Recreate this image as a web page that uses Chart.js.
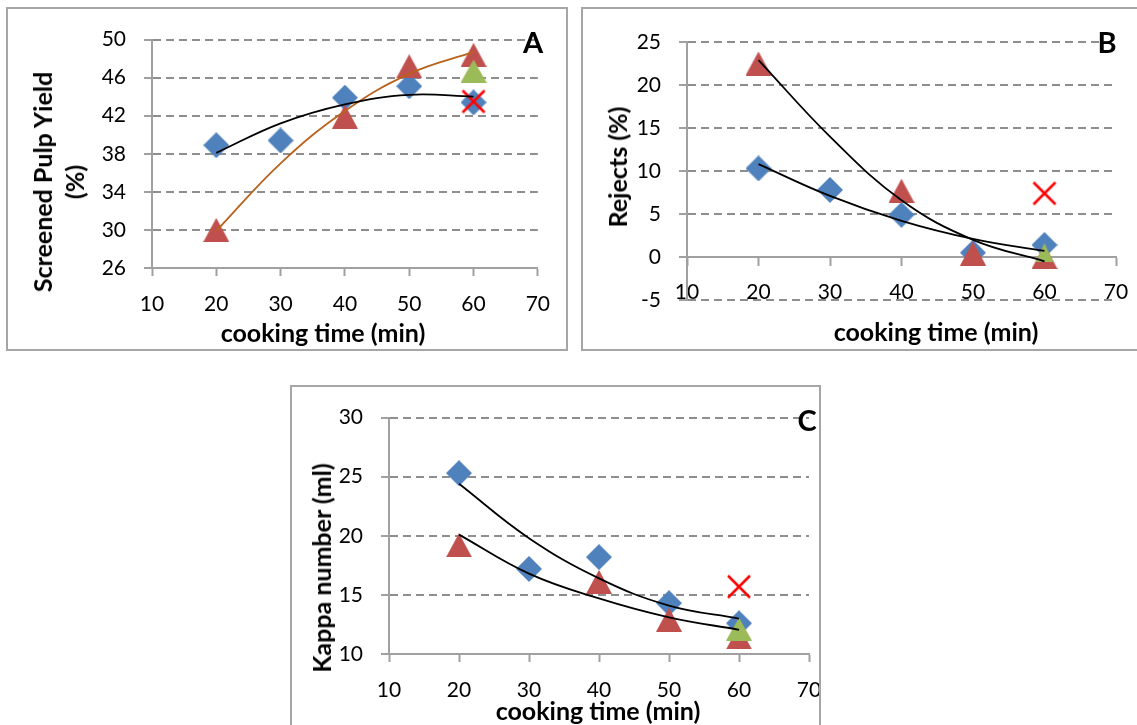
<!DOCTYPE html>
<html>
<head>
<meta charset="utf-8">
<script src="https://cdn.jsdelivr.net/npm/chart.js@4.4.1/dist/chart.umd.min.js"></script>
<style>
  html, body { margin: 0; padding: 0; background: #fff; width: 1137px; height: 725px; overflow: hidden; }
  .panel { position: absolute; box-sizing: border-box; border: 2px solid #a6a6a6; overflow: hidden; background: #fff; }
  .panel canvas { position: absolute; left: 0; top: 0; }
  .lbl { position: absolute; font-family: Lato, sans-serif; font-weight: 700; color: #000;
         white-space: nowrap; line-height: 1.2; transform: translate(-50%, -50%); }
  .title { font-size: 25px; }
  .ytitle { text-align: center; transform: translate(-50%, -50%) rotate(-90deg); }
  .letter { font-size: 29px; }
</style>
</head>
<body>
<div class="panel" style="left:6px;top:7px;width:562px;height:344px;"><canvas id="chartA" width="558" height="340"></canvas></div>
<div class="panel" style="left:581px;top:7px;width:570px;height:344px;"><canvas id="chartB" width="566" height="340"></canvas></div>
<div class="panel" style="left:290px;top:385px;width:531px;height:360px;"><canvas id="chartC" width="560" height="356"></canvas></div>

<div class="lbl letter" style="left:533px;top:42px;">A</div>
<div class="lbl letter" style="left:1107px;top:42px;">B</div>
<div class="lbl letter" style="left:807px;top:420px;">C</div>

<div class="lbl title" style="left:323px;top:332px;">cooking time (min)</div>
<div class="lbl title" style="left:936px;top:331px;">cooking time (min)</div>
<div class="lbl title" style="left:598px;top:710px;">cooking time (min)</div>

<div class="lbl title ytitle" style="left:58px;top:182px;line-height:32px;">Screened Pulp Yield<br>(%)</div>
<div class="lbl title ytitle" style="left:617px;top:167px;">Rejects (%)</div>
<div class="lbl title ytitle" style="left:321px;top:568px;">Kappa number (ml)</div>

<script>
/*************************************************
 * Data
 *************************************************/
const cookTime = [20, 30, 40, 50, 60];
const xTicks = [10, 20, 30, 40, 50, 60, 70];

// A - screened pulp yield (%)
const yieldBlue = [38.9, 39.4, 43.9, 45.1, 43.4];
const yieldRed = [30.0, null, 41.9, 47.2, 48.4];
const yieldGreen = [null, null, null, null, 46.7];
const yieldCross = [null, null, null, null, 43.5];
const yieldTrendBlue = [38.1, 41.2, 43.2, 44.2, 44.0];
const yieldTrendRed = [29.9, 37.0, 42.5, 46.4, 48.7];
const yieldTicks = [26, 30, 34, 38, 42, 46, 50];

// B - rejects (%)
const rejectsBlue = [10.3, 7.8, 4.9, 0.5, 1.4];
const rejectsRed = [22.5, null, 7.7, 0.4, 0.0];
const rejectsGreen = [null, null, null, null, 0.5];
const rejectsCross = [null, null, null, null, 7.4];
const rejectsTrendBlue = [10.8, 7.1, 4.2, 2.1, 0.7];
const rejectsTrendRed = [22.9, 14.0, 6.6, 2.0, -0.5];
const rejectsTicks = [-5, 0, 5, 10, 15, 20, 25];

// C - kappa number
const kappaBlue = [25.3, 17.2, 18.2, 14.3, 12.6];
const kappaRed = [19.2, null, 16.1, 12.9, 11.4];
const kappaGreen = [null, null, null, null, 12.1];
const kappaCross = [null, null, null, null, 15.7];
const kappaTrendBlue = [24.4, 19.8, 16.4, 14.1, 13.0];
const kappaTrendRed = [20.1, 16.8, 14.7, 13.1, 12.05];
const kappaTicks = [10, 15, 20, 25, 30];

/*************************************************
 * Markers
 *************************************************/
const AXIS = "#a0a0a0";
const GRID = "#8e8e8e";

function makeMarker(w, h, paint) {
    const c = document.createElement("canvas");
    c.width = w;
    c.height = h;
    paint(c.getContext("2d"), w, h);
    return c;
}

const diamond = makeMarker(26, 26, (g, w, h) => {
    g.fillStyle = "#4f81bd";
    g.beginPath();
    g.moveTo(w / 2, 0); g.lineTo(w, h / 2); g.lineTo(w / 2, h); g.lineTo(0, h / 2);
    g.closePath();
    g.fill();
});

function triangle(w, h, color) {
    return makeMarker(w, h, (g) => {
        g.fillStyle = color;
        g.beginPath();
        g.moveTo(w / 2, 0); g.lineTo(w, h); g.lineTo(0, h);
        g.closePath();
        g.fill();
    });
}

const redTri = triangle(26, 24, "#c0504d");
const greenTri = triangle(26, 23, "#9bbb59");

const cross = makeMarker(26, 26, (g, w, h) => {
    g.strokeStyle = "#ff0000";
    g.lineWidth = 2.5;
    g.beginPath();
    g.moveTo(2, 2); g.lineTo(w - 2, h - 2);
    g.moveTo(w - 2, 2); g.lineTo(2, h - 2);
    g.stroke();
});

function pts(values) {
    return cookTime.map((x, i) => ({ x: x, y: values[i] })).filter(p => p.y !== null);
}

function markerSet(values, style) {
    return { data: pts(values), pointStyle: style, pointRadius: 12, pointHoverRadius: 12, showLine: false };
}

function trendSet(values, color) {
    return { data: pts(values), showLine: true, borderColor: color, borderWidth: 1.8,
             pointRadius: 0, pointHoverRadius: 0, tension: 0.4 };
}

/*************************************************
 * Panels
 *************************************************/
function drawPanel(id, p) {
    const ctx = document.getElementById(id);
    return new Chart(ctx, {
        type: "scatter",
        data: {
            // first dataset is painted last (on top)
            datasets: [
                trendSet(p.trendBlue, "#000"),
                trendSet(p.trendRed, p.trendRedColor),
                markerSet(p.cross, cross),
                markerSet(p.green, p.greenStyle || greenTri),
                markerSet(p.red, redTri),
                markerSet(p.blue, diamond)
            ].map(d => Object.assign(d, { clip: false }))
        },
        options: {
            responsive: false,
            animation: false,
            devicePixelRatio: 1,
            events: [],
            layout: { padding: { left: 0, top: p.top, right: p.right, bottom: p.bottom } },
            plugins: { legend: { display: false }, tooltip: { enabled: false } },
            scales: {
                x: {
                    type: "linear",
                    min: 10,
                    max: 70,
                    position: p.xPos,
                    afterBuildTicks: s => { s.ticks = xTicks.map(v => ({ value: v })); },
                    afterFit: s => { s.height = p.xHeight; },
                    grid: { drawOnChartArea: false, drawTicks: true, tickLength: 8, tickColor: AXIS, tickWidth: 2 },
                    border: { color: AXIS, width: 2 },
                    ticks: { color: "#000", font: { family: "Lato", size: 21 }, padding: p.xPad, maxRotation: 0, autoSkip: false }
                },
                y: {
                    type: "linear",
                    min: p.yTicks[0],
                    max: p.yTicks[p.yTicks.length - 1],
                    afterBuildTicks: s => { s.ticks = p.yTicks.map(v => ({ value: v })); },
                    afterFit: s => { s.width = p.left; },
                    grid: { color: GRID, lineWidth: 2, tickLength: 8, tickColor: AXIS, tickWidth: 2 },
                    border: { color: AXIS, width: 2, dash: [8, 5] },
                    ticks: { color: "#000", font: { family: "Lato", size: 21 }, padding: 18, autoSkip: false }
                }
            }
        }
    });
}

drawPanel("chartA", {
    blue: yieldBlue, red: yieldRed, green: yieldGreen, cross: yieldCross,
    trendBlue: yieldTrendBlue, trendRed: yieldTrendRed, trendRedColor: "#b8621b",
    yTicks: yieldTicks,
    left: 144, top: 25, right: 27, bottom: 0, xHeight: 81, xPos: "bottom", xPad: 16
});

drawPanel("chartB", {
    blue: rejectsBlue, red: rejectsRed, green: rejectsGreen, cross: rejectsCross,
    trendBlue: rejectsTrendBlue, trendRed: rejectsTrendRed, trendRedColor: "#000",
    greenStyle: triangle(18, 19, "#9bbb59"),
    yTicks: rejectsTicks,
    left: 104, top: 33, right: 33, bottom: 49, xHeight: 0, xPos: { y: 0 }, xPad: 15
});

drawPanel("chartC", {
    blue: kappaBlue, red: kappaRed, green: kappaGreen, cross: kappaCross,
    trendBlue: kappaTrendBlue, trendRed: kappaTrendRed, trendRedColor: "#000",
    yTicks: kappaTicks,
    left: 97, top: 17, right: 43, bottom: 0, xHeight: 89, xPos: "bottom", xPad: 16
});
</script>
</body>
</html>
